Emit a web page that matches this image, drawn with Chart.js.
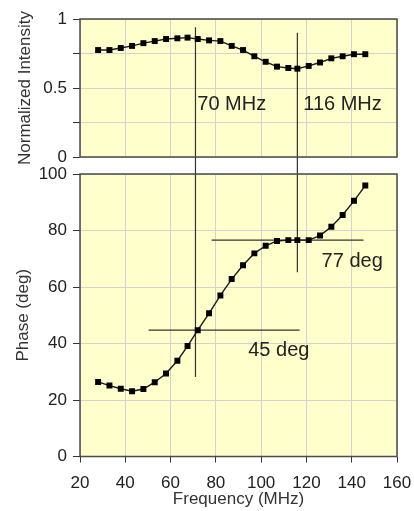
<!DOCTYPE html>
<html><head><meta charset="utf-8">
<script src="https://cdn.jsdelivr.net/npm/chart.js@4"></script>
<style>
html,body{margin:0;padding:0;background:#fff;width:414px;height:511px;overflow:hidden}
canvas{position:absolute;left:0}
#topChart{top:0}
#bottomChart{top:160px}
</style></head><body>
<canvas id="topChart" width="414" height="180"></canvas>
<canvas id="bottomChart" width="414" height="351"></canvas>
<script>
// ---- data ----
const frequencies = [28,33,38,43,48,53,58,63,67.5,72,77,82,87,92,97,102,107,112,116,121,126,131,136,141,146];
const intensity = [0.775,0.775,0.79,0.805,0.825,0.84,0.855,0.86,0.865,0.855,0.845,0.84,0.805,0.775,0.73,0.69,0.655,0.645,0.64,0.66,0.685,0.715,0.73,0.745,0.745];
const phase = [26.4,25.1,24,23.1,23.9,26.3,29.4,33.9,39.1,44.7,50.7,57,62.8,67.7,71.9,74.6,76.3,76.6,76.6,76.6,78.2,81.3,85.5,90.5,95.9];

const freqTicks = [20,40,60,80,100,120,140,160];
const intensityTicks = [0,0.25,0.5,0.75,1];
const intensityTickLabels = ['0','','0.5','','1'];
const phaseTicks = [0,20,40,60,80,100];

// marker lines (frequency markers and phase levels)
const markerFreqs = [71, 116];
const markerTopIntensity = [0.94, 0.90];
const markerGapIntensity = -0.124;   // where the marker meets the lower panel
const markerBottomPhase = [28.1, 65.2];
const markerLabels = ['70 MHz', '116 MHz'];
const markerLabelFreqs = [71.8, 118.6];
const markerLabelIntensity = [0.382, 0.382];

const levelPhases = [44.7, 76.6];
const levelFreqStart = [50.3, 78.1];
const levelFreqEnd = [117, 145.2];
const levelLabels = ['45 deg', '77 deg'];
const levelLabelFreqs = [94.3, 126.7];
const levelLabelPhases = [37.5, 69.1];

// ---- style ----
const FONT = '"Liberation Sans", Arial, Helvetica, sans-serif';
const gridColor = '#d2d2d2';
const panelBg = '#FFFFCC';
const frameColor = '#4a4a4a';
const textColor = '#222';

const panelPlugin = {
  id: 'panel',
  beforeDraw(chart) {
    const {ctx, chartArea: a} = chart;
    ctx.save();
    ctx.fillStyle = panelBg;
    ctx.fillRect(a.left, a.top, a.right - a.left, a.bottom - a.top);
    ctx.restore();
  },
  afterDraw(chart) {
    const {ctx, chartArea: a} = chart;
    ctx.save();
    ctx.strokeStyle = frameColor;
    ctx.lineWidth = 1.5;
    ctx.strokeRect(a.left, a.top, a.right - a.left, a.bottom - a.top);
    ctx.restore();
  }
};

function textPlugin(texts, xs, ys) {
  return {
    id: 'annot',
    afterDatasetsDraw(chart) {
      const {ctx, scales: {x, y}} = chart;
      ctx.save();
      ctx.font = '20px ' + FONT;
      ctx.fillStyle = textColor;
      ctx.textAlign = 'left';
      ctx.textBaseline = 'middle';
      texts.forEach((t, i) => ctx.fillText(t, x.getPixelForValue(xs[i]), y.getPixelForValue(ys[i])));
      ctx.restore();
    }
  };
}

const seriesStyle = {
  borderColor: '#1a1a1a', borderWidth: 1.4, tension: 0,
  pointStyle: 'rect', pointRadius: 4.2, pointHoverRadius: 4.2,
  pointBackgroundColor: '#000', pointBorderColor: '#000', pointBorderWidth: 0,
  order: 0
};
const guideStyle = {
  borderColor: '#333', borderWidth: 1.2, pointRadius: 0, pointHoverRadius: 0,
  clip: false, order: 1, tension: 0
};

const tickFont = {family: FONT, size: 17};
const titleFont = {family: FONT, size: 17};

function freqTicksFn(s) { s.ticks = freqTicks.map(v => ({value: v})); }
function fixX(h) { return s => { s.height = h; s.paddingLeft = 0; s.paddingRight = 0; }; }
function fixY(w) { return s => { s.width = w; s.paddingTop = 0; s.paddingBottom = 0; }; }

// ---- top chart ----
const topDatasets = [
  Object.assign({data: frequencies.map((f, i) => ({x: f, y: intensity[i]}))}, seriesStyle)
];
markerFreqs.forEach((f, i) => {
  topDatasets.push(Object.assign({data: [{x: f, y: markerTopIntensity[i]}, {x: f, y: markerGapIntensity}]}, guideStyle));
});

new Chart(document.getElementById('topChart'), {
  type: 'line',
  data: {datasets: topDatasets},
  options: {
    responsive: false, animation: false, devicePixelRatio: 1,
    layout: {padding: {top: 19, right: 17, left: 0, bottom: 23}},
    plugins: {legend: {display: false}, tooltip: {enabled: false}},
    scales: {
      x: {
        type: 'linear', min: 20, max: 160,
        afterBuildTicks: freqTicksFn,
        ticks: {display: false},
        grid: {color: gridColor, drawTicks: false},
        border: {display: false},
        afterFit: fixX(0)
      },
      y: {
        type: 'linear', min: 0, max: 1,
        afterBuildTicks: s => { s.ticks = intensityTicks.map(v => ({value: v})); },
        ticks: {font: tickFont, color: textColor, padding: 6, callback: (v, i) => intensityTickLabels[i]},
        grid: {color: gridColor, tickColor: '#333', tickLength: 7},
        border: {display: false},
        title: {display: true, text: 'Normalized Intensity', font: titleFont, color: '#333', padding: {top: 15, bottom: 0}},
        afterFit: fixY(80)
      }
    }
  },
  plugins: [panelPlugin, textPlugin(markerLabels, markerLabelFreqs, markerLabelIntensity)]
});

// ---- bottom chart ----
const bottomDatasets = [
  Object.assign({data: frequencies.map((f, i) => ({x: f, y: phase[i]}))}, seriesStyle)
];
markerFreqs.forEach((f, i) => {
  bottomDatasets.push(Object.assign({data: [{x: f, y: 100}, {x: f, y: markerBottomPhase[i]}]}, guideStyle));
});
levelPhases.forEach((p, i) => {
  bottomDatasets.push(Object.assign({data: [{x: levelFreqStart[i], y: p}, {x: levelFreqEnd[i], y: p}]}, guideStyle));
});

new Chart(document.getElementById('bottomChart'), {
  type: 'line',
  data: {datasets: bottomDatasets},
  options: {
    responsive: false, animation: false, devicePixelRatio: 1,
    layout: {padding: {top: 14, right: 17, left: 0, bottom: 0}},
    plugins: {legend: {display: false}, tooltip: {enabled: false}},
    scales: {
      x: {
        type: 'linear', min: 20, max: 160,
        afterBuildTicks: freqTicksFn,
        ticks: {font: tickFont, color: textColor, padding: 11, maxRotation: 0, autoSkip: false, callback: v => String(v)},
        grid: {color: gridColor, tickColor: '#333', tickLength: 6},
        border: {display: false},
        title: {display: true, text: 'Frequency (MHz)', font: titleFont, color: '#333', padding: {top: 0, bottom: 1}},
        afterFit: fixX(54.5)
      },
      y: {
        type: 'linear', min: 0, max: 100,
        afterBuildTicks: s => { s.ticks = phaseTicks.map(v => ({value: v})); },
        ticks: {font: tickFont, color: textColor, padding: 6, callback: v => String(v)},
        grid: {color: gridColor, tickColor: '#333', tickLength: 7},
        border: {display: false},
        title: {display: true, text: 'Phase (deg)', font: titleFont, color: '#333', padding: {top: 13, bottom: 0}},
        afterFit: fixY(80)
      }
    }
  },
  plugins: [panelPlugin, textPlugin(levelLabels, levelLabelFreqs, levelLabelPhases)]
});
</script>
</body></html>
